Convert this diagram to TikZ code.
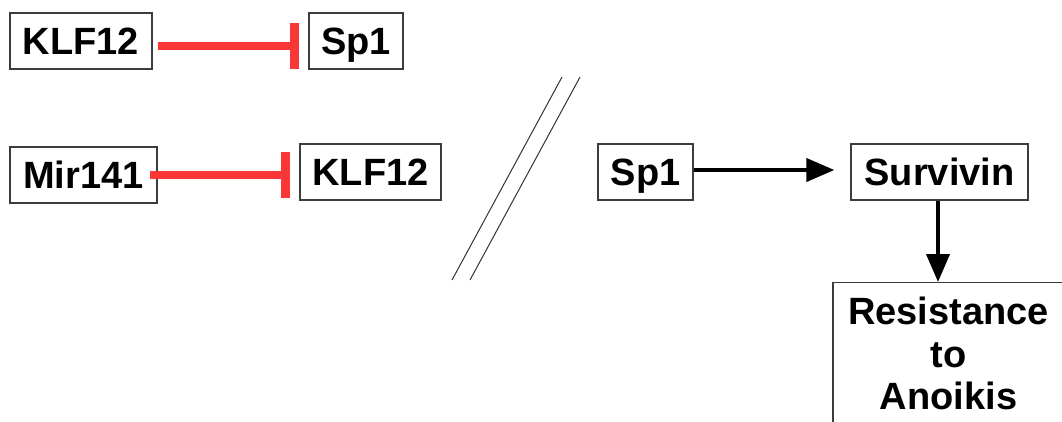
\documentclass[tikz,border=0pt]{standalone}
\usepackage{fontspec}
\setmainfont{Liberation Sans}
\usetikzlibrary{arrows.meta}
\definecolor{inhred}{RGB}{250,55,55}
\definecolor{boxgray}{RGB}{60,60,60}
\begin{document}
\begin{tikzpicture}[x=1pt,y=-1pt,
  lbl/.style={font=\fontsize{38}{42.5}\selectfont\bfseries},
  box/.style={lbl,draw=boxgray,line width=1.3pt,inner sep=0pt,minimum height=56pt,text height=27.5pt,text depth=0pt},
  inh/.style={draw=inhred,line width=8pt,-{Bar[width=46pt,line width=9pt]}},
  act/.style={draw=black,line width=4pt,-{Triangle[length=28pt,width=23pt]}},
  slash/.style={draw=black!80,line width=1pt}]
\useasboundingbox (0,0) rectangle (1062,421);
\clip (0,0) rectangle (1062,421);
\node[box,minimum width=142pt] (k1) at (81,41) {KLF12};
\node[box,minimum width=94pt] (s1) at (356,41) {Sp1};
\node[box,minimum width=147pt] (m1) at (83.5,175) {Mir141};
\node[box,minimum width=141pt] (k2) at (370.5,172) {KLF12};
\node[box,minimum width=95pt] (s2) at (645.5,172) {Sp1};
\node[box,minimum width=177pt] (sv) at (939.5,172) {Survivin};
\node[lbl,draw=boxgray,line width=1.3pt,inner sep=0pt,anchor=north,minimum width=231pt,minimum height=142pt,align=center] (res) at (948.5,282) {Resistance\\to\\Anoikis};
\draw[inh] ([xshift=5pt,yshift=-5pt]k1.east) -- ([xshift=-9pt,yshift=-5pt]s1.west);
\draw[inh] ([xshift=-8pt]m1.east) -- ([xshift=-9pt,yshift=-3pt]k2.west);
\draw[act] ([yshift=2pt]s2.east) -- ([xshift=-16pt,yshift=2pt]sv.west);
\draw[act] ([xshift=-1.5pt]sv.south) -- ([xshift=-1.5pt]sv.south |- res.north);
\draw[slash] (562,77) -- (452,280);
\draw[slash] (580,77) -- (470,280);
\end{tikzpicture}
\end{document}
